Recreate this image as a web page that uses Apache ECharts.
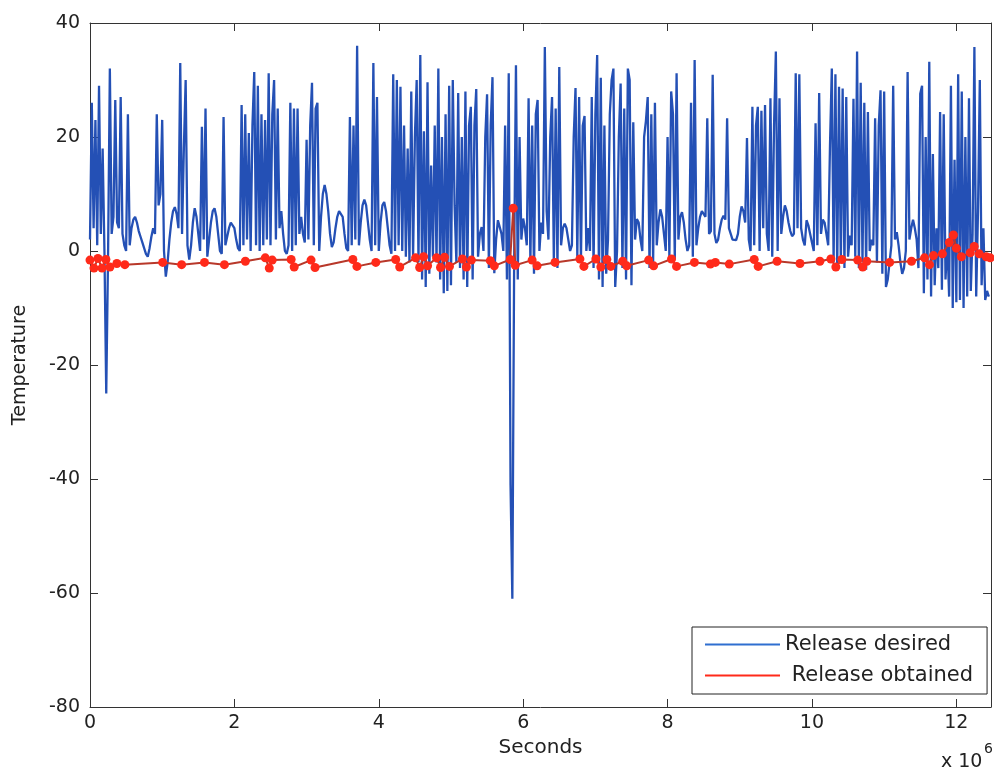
<!DOCTYPE html>
<html>
<head>
<meta charset="utf-8">
<script src="https://cdn.jsdelivr.net/npm/echarts@6/dist/echarts.min.js"></script>
<style>
html,body{margin:0;padding:0;background:#fff;}
#chart{width:994px;height:772px;}
</style>
</head>
<body>
<div id="chart"></div>
<script>
// ---- data (x in units of 10^6 seconds) ----
var xTicks = [0, 2, 4, 6, 8, 10, 12];
var yTicks = [-80, -60, -40, -20, 0, 20, 40];
var sampleStep = 0.025; // spacing of the "Release desired" samples
var desiredValues = [
  2, 26, 4, 23, 1, 29, 3, 18, 0, -25,
  -1, 32, 3, 6, 26.5, 5, 4, 27, 3, 1,
  0, 24, 1, 4, 5.5, 6, 5, 3.5, 2.5, 1.5,
  0.5, -0.5, -1, 0.5, 2.5, 4, 3, 24, 8, 10,
  23, 0, -4.5, -2, 2, 5, 7, 7.7, 6.5, 4,
  33, 3, 18, 30, 1, -1.5, 1, 5, 7.5, 6,
  3, 0, 21.8, 2, 25, -1, 2, 5, 7, 7.5,
  6, 3, 0, -0.5, 23.5, 1, 2.5, 4, 5, 5,
  4, 2, 0.5, 0, 25.6, 1, 24, 2, 20.7, 0,
  22, 31.4, 1, 29, 0, 24, 1, 23, 2, 31.2,
  1, 24, 30, 2, 25, 4, 7, 3, 0, -0.5,
  1, 26, 0, 25, 1, 25, 3, 6, 3, 1.5,
  19.5, 2, 22, 29.5, 1, 25, 26, 0, 6, 10,
  11.6, 10, 7, 3, 0.7, 1.5, 4, 6, 7, 7,
  6, 3, 0.5, 0, 23.5, 1, 22, 2, 36, 1,
  5, 8, 9, 8, 5, 2, 0, 33, 1, 27,
  0, 5, 8, 8.6, 7, 4, 1, -0.5, 31, 0,
  30, 1, 28.8, 0, 22, -1, 18, -2, 28, -1,
  20, 30, -2, 34.4, -5, 21, -6.3, 29.6, -4, 15,
  -1, 22, -2, 32, -5, 20, -7.4, 24, -7, 29,
  -6, 30, 8, -2, 27.7, -3, 20, -5, 28, -6.3,
  22, 25.3, -5, 22, 28.4, -1, 3, 4.2, 0, 20,
  27.5, -3, 22, 30.5, -3.9, 2, 5.4, 5.4, 3, 0,
  22, -5, 31.2, -41, -61, -2, 32.6, -5, 20, 2,
  5.7, 4, 1, 26.8, -2, 22, -4, 24, 26.5, 0,
  5, 3, 35.8, 7, 2, 20, 27, -2, 25, -3,
  32.3, 1, 4, 4.8, 4, 2, 0, 1, 20, 28.6,
  -1, 27, -2, 22, 23.7, 0, 4, 0, 27, -3,
  24, 34.4, -5, 30.4, -6.3, 22, -4, 2, 24, 30,
  32, -6.3, 0, 20, 29.4, -3, 25, -5, 32, 30,
  -6, 22.6, 2, 5.6, 5, 2, 0, 20, 22.8, 27,
  -3, 24, -2, 26, 1, 5, 7.3, 6, 3, 0,
  20, -1, 28, 24, -1.5, 31.2, 2, 6, 6.8, 5,
  2, 0, 1, 26, -1, 33.5, 1, 4, 6, 7,
  7.3, 6, 23.3, 3, 3.5, 30.9, 3, 1.4, 2, 4,
  5.5, 6.2, 5.5, 23.3, 4, 3, 2, 2, 1.9, 3,
  6, 7.8, 7, 5, 19.8, 2, 0, 25.3, 1, 22,
  25.3, 0, 24.6, 4, 25.6, 3, 0, 26.8, -1, 22,
  35, 0, 26.8, 3, 6, 8, 7, 5, 3.5, 2.6,
  3, 31.2, 4, 31, 4, 2, 1, 5.4, 4.5, 3,
  1.5, 0, 22.4, 1, 27.7, 3, 5.5, 5, 3, 1,
  18.6, 32, -2, 31, -3.3, 28.8, -2, 28.5, -3, 27,
  -1, 2.7, 1, 26.7, -1, 35, -3, 29.5, -2, 26,
  -3.3, 24.4, 0, 2, 1, 23.3, -2, 22, 28.2, -4,
  28, -6.3, -5, -2, 1, 29, 2, 3.3, 1, -2,
  -4, -3, 0, 31.4, 2, 4, 5.5, 4, 2, -3,
  27.6, 29, -7.4, 20, -5, 33.2, -8, 17, -6, 4,
  -3, 24.4, -6.8, 24, -5, 2, -8, 29, -10, 16,
  -9, 31, -8.6, 28, -10, 20, -8, 26.8, -7, 3,
  35.8, -8, 7, 30, -6, 4, -8.6, -7, -8
];
var obtainedX = [
  0.00, 0.055, 0.11, 0.166, 0.22, 0.276, 0.372, 0.483, 1.007, 1.269,
  1.586, 1.862, 2.152, 2.428, 2.483, 2.524, 2.786, 2.828, 3.062, 3.117,
  3.641, 3.697, 3.959, 4.234, 4.29, 4.51, 4.566, 4.621, 4.676, 4.8,
  4.855, 4.91, 4.979, 5.159, 5.214, 5.283, 5.545, 5.6, 5.821, 5.862,
  5.89, 6.124, 6.193, 6.441, 6.786, 6.841, 7.007, 7.076, 7.159, 7.214,
  7.379, 7.434, 7.738, 7.807, 8.055, 8.124, 8.372, 8.593, 8.662, 8.855,
  9.2, 9.255, 9.517, 9.834, 10.11, 10.262, 10.331, 10.414, 10.634, 10.703,
  10.759, 11.076, 11.379, 11.559, 11.628, 11.683, 11.807, 11.903, 11.959, 12.0,
  12.069, 12.193, 12.248, 12.317, 12.414, 12.469
];
var obtainedY = [
  -1.6, -3.0, -1.3, -3.0, -1.5, -2.8, -2.2, -2.4, -2.0, -2.4,
  -2.0, -2.4, -1.8, -1.2, -3.0, -1.6, -1.5, -2.8, -1.6, -2.9,
  -1.5, -2.7, -2.0, -1.5, -2.8, -1.2, -2.9, -1.0, -2.6, -1.2,
  -2.9, -1.1, -2.7, -1.4, -2.8, -1.6, -1.7, -2.6, -1.5, 7.5,
  -2.5, -1.6, -2.6, -2.0, -1.4, -2.7, -1.4, -2.8, -1.5, -2.7,
  -1.8, -2.6, -1.6, -2.6, -1.4, -2.7, -2.0, -2.3, -2.0, -2.3,
  -1.5, -2.7, -1.8, -2.2, -1.8, -1.4, -2.8, -1.5, -1.6, -2.8,
  -1.8, -2.0, -1.8, -1.2, -2.4, -0.8, -0.5, 1.5, 2.8, 0.5,
  -1.0, -0.3, 0.8, -0.5, -1.0, -1.2
];
var seriesNames = ['Release desired', 'Release obtained'];

var desiredData = desiredValues.map(function (v, i) { return [i * sampleStep, v]; });
var obtainedData = obtainedX.map(function (x, i) { return [x, obtainedY[i]]; });

var FONT = 'DejaVu Sans';
var AXIS_COLOR = '#333';
function xLabel(v) {
  for (var k = 0; k < xTicks.length; k++) if (Math.abs(v - xTicks[k]) < 1e-6) return String(xTicks[k]);
  return '';
}
function yLabel(v) {
  for (var k = 0; k < yTicks.length; k++) if (Math.abs(v - yTicks[k]) < 1e-6) return String(yTicks[k]);
  return '';
}
var commonX = {
  type: 'value', min: 0, max: 12.48, interval: 2,
  axisLine: { show: true, onZero: false, lineStyle: { color: AXIS_COLOR, width: 1 } },
  axisTick: { show: true, inside: true, length: 8, lineStyle: { color: AXIS_COLOR } },
  splitLine: { show: false }
};
var commonY = {
  type: 'value', min: -80, max: 40, interval: 20,
  axisLine: { show: true, onZero: false, lineStyle: { color: AXIS_COLOR, width: 1 } },
  axisTick: { show: true, inside: true, length: 8, lineStyle: { color: AXIS_COLOR } },
  splitLine: { show: false }
};

var chart = echarts.init(document.getElementById('chart'), null, { renderer: 'canvas' });
chart.setOption({
  animation: false,
  backgroundColor: '#ffffff',
  grid: { left: 90, top: 23, width: 905, height: 684 },
  xAxis: [
    Object.assign({}, commonX, {
      position: 'bottom',
      axisLabel: { formatter: xLabel, color: '#222', fontSize: 19, fontFamily: FONT, margin: 7 },
      name: 'Seconds', nameLocation: 'middle', nameGap: 29,
      nameTextStyle: { color: '#222', fontSize: 20, fontFamily: FONT }
    }),
    Object.assign({}, commonX, { position: 'top', axisLabel: { show: false } })
  ],
  yAxis: [
    Object.assign({}, commonY, {
      position: 'left',
      axisLabel: { formatter: yLabel, color: '#222', fontSize: 19, fontFamily: FONT, margin: 10 },
      name: 'Temperature', nameLocation: 'middle', nameGap: 60,
      nameTextStyle: { color: '#222', fontSize: 19, fontFamily: FONT }
    }),
    Object.assign({}, commonY, { position: 'right', axisLabel: { show: false } })
  ],
  legend: {
    orient: 'vertical', left: 692, top: 627,
    padding: [7, 14, 8, 13], itemGap: 10,
    itemWidth: 75, itemHeight: 2, icon: 'rect',
    backgroundColor: '#ffffff', borderColor: '#222', borderWidth: 1,
    textStyle: { color: '#222', fontSize: 21, fontFamily: FONT },
    formatter: function (n) { return n === seriesNames[1] ? ' ' + n : n; },
    data: seriesNames
  },
  series: [
    {
      name: seriesNames[0], type: 'line', data: desiredData,
      showSymbol: false, symbol: 'none', sampling: 'none',
      lineStyle: { color: '#2450b5', width: 2.3 },
      itemStyle: { color: '#2f6fd0' },
      z: 2
    },
    {
      name: seriesNames[1], type: 'line', data: obtainedData,
      symbol: 'circle', symbolSize: 9, showSymbol: true,
      lineStyle: { color: '#b8382a', width: 2 },
      itemStyle: { color: '#ff2a1a', borderWidth: 0 },
      z: 3
    }
  ],
  graphic: [
    { type: 'text', left: 941, top: 753, style: { text: 'x 10', font: '19px "DejaVu Sans"', fill: '#222' } },
    { type: 'text', left: 984, top: 742, style: { text: '6', font: '14px "DejaVu Sans"', fill: '#222' } }
  ]
});
</script>
</body>
</html>
